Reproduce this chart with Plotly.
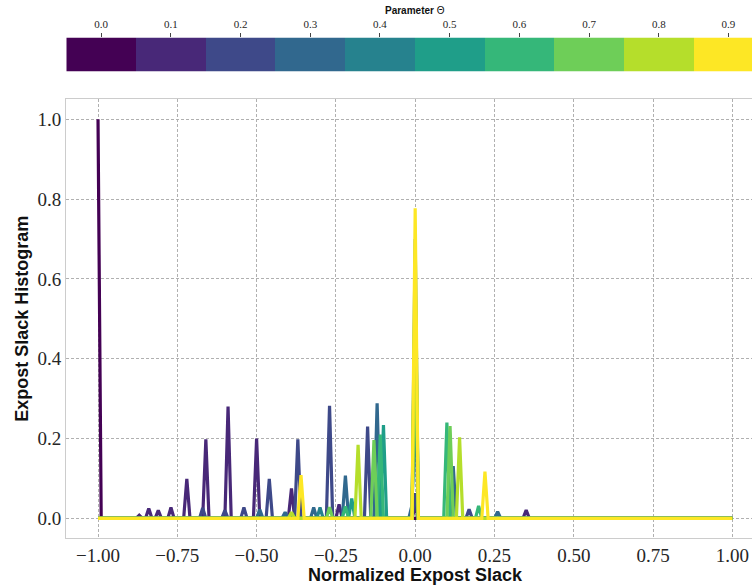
import plotly.graph_objects as go

# ---------------- data ----------------
thetas = [0.0, 0.1, 0.2, 0.3, 0.4, 0.5, 0.6, 0.7, 0.8, 0.9]
theta_labels = ["0.0", "0.1", "0.2", "0.3", "0.4", "0.5", "0.6", "0.7", "0.8", "0.9"]
colors = ["#440154", "#482878", "#3e4989", "#31688e", "#26828e",
          "#1f9e89", "#35b779", "#6ece58", "#b5de2b", "#fde725"]

# histogram bin centres (normalized expost slack)
bin_centers = [round(-1.0 + 0.01 * i, 2) for i in range(201)]

# non-zero histogram bins for each theta: (slack, frequency)
peaks_x_00 = [-1.00]
peaks_y_00 = [1.00]
peaks_x_01 = [-0.87, -0.84, -0.81, -0.77, -0.72, -0.66, -0.59, -0.50, -0.39, -0.24, 0.00, 0.35]
peaks_y_01 = [0.008, 0.025, 0.020, 0.027, 0.099, 0.198, 0.280, 0.200, 0.075, 0.035, 0.030, 0.021]
peaks_x_02 = [-0.67, -0.60, -0.54, -0.46, -0.37, -0.27, -0.15, 0.00, 0.17]
peaks_y_02 = [0.026, 0.020, 0.027, 0.099, 0.198, 0.282, 0.230, 0.063, 0.023]
peaks_x_03 = [-0.49, -0.41, -0.32, -0.22, -0.12, -0.01, 0.00, 0.12, 0.26]
peaks_y_03 = [0.022, 0.015, 0.027, 0.107, 0.288, 0.033, 0.300, 0.131, 0.017]
peaks_x_04 = [-0.30, 0.00]
peaks_y_04 = [0.027, 0.700]
peaks_x_05 = [-0.20, -0.10, 0.00]
peaks_y_05 = [0.050, 0.234, 0.600]
peaks_x_06 = [-0.22, -0.11, 0.00, 0.10, 0.20]
peaks_y_06 = [0.030, 0.210, 0.490, 0.240, 0.031]
peaks_x_07 = [-0.27, -0.13, 0.00, 0.11]
peaks_y_07 = [0.028, 0.196, 0.545, 0.231]
peaks_x_08 = [-0.39, -0.18, 0.00, 0.14]
peaks_y_08 = [0.015, 0.184, 0.600, 0.203]
peaks_x_09 = [-0.36, 0.00, 0.22]
peaks_y_09 = [0.108, 0.777, 0.117]

peaks_x = [peaks_x_00, peaks_x_01, peaks_x_02, peaks_x_03, peaks_x_04,
           peaks_x_05, peaks_x_06, peaks_x_07, peaks_x_08, peaks_x_09]
peaks_y = [peaks_y_00, peaks_y_01, peaks_y_02, peaks_y_03, peaks_y_04,
           peaks_y_05, peaks_y_06, peaks_y_07, peaks_y_08, peaks_y_09]

x_ticks = [-1.0, -0.75, -0.5, -0.25, 0.0, 0.25, 0.5, 0.75, 1.0]
y_ticks = [0.0, 0.2, 0.4, 0.6, 0.8, 1.0]

# ---------------- figure ----------------
W, H = 752, 586
def px_x(p):
    return p / W
def px_y(p):
    return (H - p) / H

fig = go.Figure()

for k, th in enumerate(thetas):
    hist = {round(x, 2): y for x, y in zip(peaks_x[k], peaks_y[k])}
    ys = [hist.get(b, 0.0) for b in bin_centers]
    fig.add_trace(go.Scatter(
        x=bin_centers, y=ys, mode="lines",
        line=dict(color=colors[k], width=3.2),
        showlegend=False, hoverinfo="skip", xaxis="x", yaxis="y"))

# discrete colour bar (drawn as a one-row heatmap)
cscale = []
n = len(colors)
for i, c in enumerate(colors):
    cscale.append([i / n, c])
    cscale.append([(i + 1) / n, c])
fig.add_trace(go.Heatmap(
    x=thetas, y=[0], z=[thetas], zmin=-0.05, zmax=0.95,
    colorscale=cscale, showscale=False, hoverinfo="skip",
    xaxis="x2", yaxis="y2"))

serif = "Liberation Serif"
sans = "Liberation Sans"
txt = "#262626"

fig.update_layout(
    width=W, height=H,
    margin=dict(l=0, r=0, t=0, b=0),
    paper_bgcolor="white", plot_bgcolor="white",
    xaxis=dict(
        domain=[px_x(66.3), 1.0], range=[-1.1, 1.062], automargin=False,
        tickvals=x_ticks, tickformat=".2f",
        tickfont=dict(family=serif, size=19, color=txt),
        showgrid=True, gridcolor="#b0b0b0", griddash="3px,2px", gridwidth=0.9,
        zeroline=False, showline=True, linecolor="#cccccc", linewidth=1.3,
        mirror=True, ticks="", anchor="y"),
    yaxis=dict(
        domain=[px_y(538.3), px_y(99.3)], range=[-0.05, 1.05], automargin=False,
        tickvals=y_ticks, tickformat=".1f",
        tickfont=dict(family=serif, size=19, color=txt),
        showgrid=True, gridcolor="#b0b0b0", griddash="3px,2px", gridwidth=0.9,
        zeroline=False, showline=True, linecolor="#cccccc", linewidth=1.3,
        mirror=False, ticks="", anchor="x"),
    xaxis2=dict(
        domain=[px_x(66.3), 1.0], range=[-0.05, -0.05 + (752 - 66.3) / 697.0],
        automargin=False, side="top", anchor="y2",
        tickvals=thetas, ticktext=theta_labels,
        tickfont=dict(family=serif, size=11, color=txt),
        ticks="outside", ticklen=4, tickwidth=1, tickcolor="#444",
        showgrid=False, zeroline=False, showline=False),
    yaxis2=dict(
        domain=[px_y(71.5), px_y(37.5)], range=[-0.5, 0.5], automargin=False,
        showticklabels=False, showgrid=False, zeroline=False, showline=False,
        anchor="x2"),
    annotations=[
        dict(text="<b>Parameter</b> Θ", x=px_x(415), y=px_y(11), xref="paper", yref="paper",
             showarrow=False, xanchor="center", yanchor="middle",
             font=dict(family=sans, size=10, color="#111")),
        dict(text="<b>Normalized Expost Slack</b>", x=px_x(415), y=px_y(575),
             xref="paper", yref="paper", showarrow=False,
             xanchor="center", yanchor="middle",
             font=dict(family=sans, size=18, color="#111")),
        dict(text="<b>Expost Slack Histogram</b>", x=px_x(22), y=px_y(318.8),
             xref="paper", yref="paper", showarrow=False, textangle=-90,
             xanchor="center", yanchor="middle",
             font=dict(family=sans, size=18, color="#111")),
    ],
)

fig.write_html(
    "out.html",
    config={"displayModeBar": False},
    post_script="document.body.style.margin='0';document.body.style.padding='0';"
                "document.body.style.overflow='hidden';",
)
